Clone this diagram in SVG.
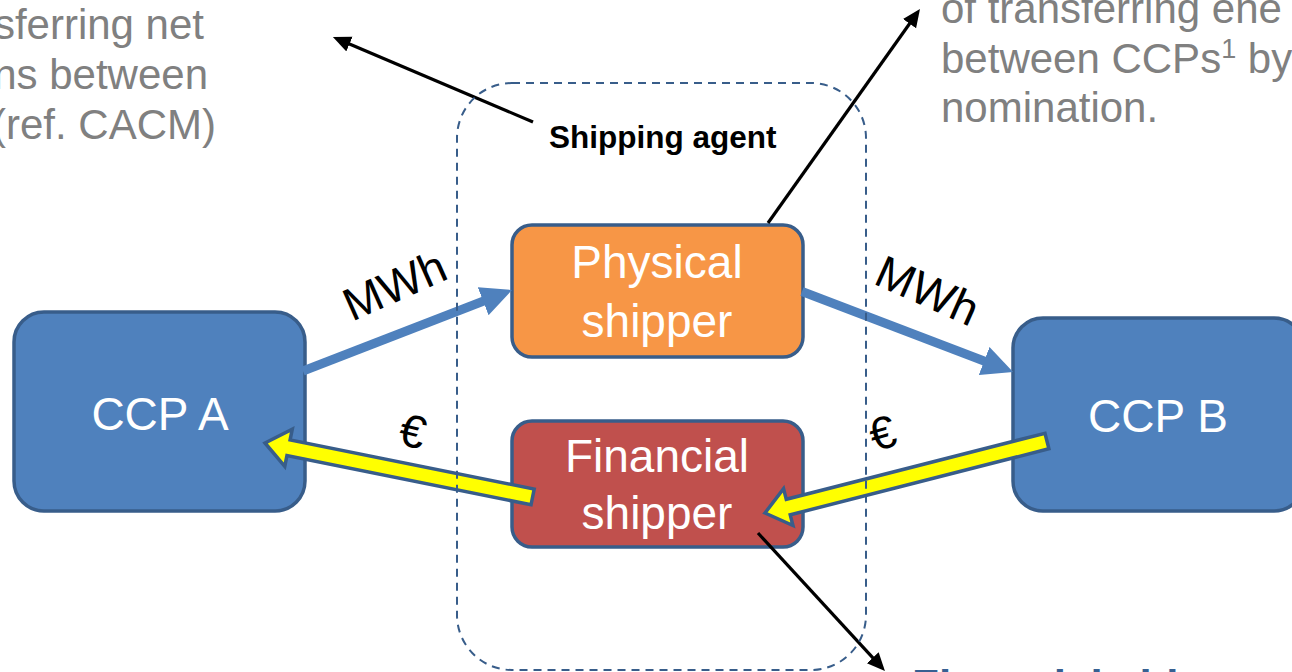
<svg xmlns="http://www.w3.org/2000/svg" width="1292" height="672" viewBox="0 0 1292 672">
<style>
.box{stroke:#385d8a;stroke-width:3.5}
.nt{font-family:"Liberation Sans",Arial,sans-serif;font-size:46px;fill:#ffffff;text-anchor:middle}
.grey{font-family:"Liberation Sans",Arial,sans-serif;font-size:42px;fill:#808080}
.lbl{font-family:"Liberation Sans",Arial,sans-serif;font-size:46px;fill:#000000;text-anchor:middle}
.blue{stroke:#4f81bd;stroke-width:9;fill:none;marker-end:url(#blueHead)}
.yel{fill:#ffff00;stroke:#385d8a;stroke-width:3.5;stroke-linejoin:miter}
.blk{stroke:#000000;stroke-width:3.2;fill:none;marker-end:url(#blkHead)}
</style>
<defs>
<marker id="blueHead" markerUnits="userSpaceOnUse" markerWidth="32" markerHeight="31" refX="2" refY="15" orient="auto">
<path d="M0,0 L31,15 L0,30 z" fill="#4f81bd"/>
</marker>
<marker id="blkHead" markerUnits="userSpaceOnUse" markerWidth="19" markerHeight="17" refX="7" refY="8" orient="auto">
<path d="M0,0 L18,8 L0,16 z" fill="#000000"/>
</marker>
</defs>
<rect width="1292" height="672" fill="#ffffff"/>

<g id="note-left">
<text class="grey" text-anchor="end"><tspan x="204" y="39">sferring net</tspan><tspan x="208" y="89">ns between</tspan><tspan x="216" y="139">(ref. CACM)</tspan></text>
</g>
<g id="note-right">
<text class="grey"><tspan x="941" y="23">of transferring ene</tspan><tspan x="941" y="73">between CCPs<tspan font-size="27" dy="-15">1</tspan><tspan dy="15"> by</tspan></tspan><tspan x="941" y="122">nomination.</tspan></text>
</g>
<g id="note-bottom">
<text x="912" y="701" font-family="'Liberation Sans',Arial,sans-serif" font-size="44" font-weight="bold" fill="#376092">Financial shipper</text>
</g>

<g id="ccp-a">
<rect class="box" x="14" y="312" width="291" height="199" rx="30" fill="#4f81bd"/>
<text class="nt" x="160" y="430">CCP A</text>
</g>
<g id="ccp-b">
<rect class="box" x="1013" y="318" width="291" height="193" rx="30" fill="#4f81bd"/>
<text class="nt" x="1158" y="432">CCP B</text>
</g>
<g id="physical-shipper">
<rect class="box" x="512" y="225" width="291" height="132" rx="20" fill="#f79646"/>
<text class="nt" x="657" y="278">Physical</text>
<text class="nt" x="657" y="337">shipper</text>
</g>
<g id="financial-shipper">
<rect class="box" x="512" y="421" width="291" height="126" rx="20" fill="#c0504d"/>
<text class="nt" x="657" y="472">Financial</text>
<text class="nt" x="657" y="529">shipper</text>
</g>

<g id="connectors">
<line class="blue" x1="303" y1="371" x2="485" y2="300.5"/>
<line class="blue" x1="802" y1="291.5" x2="986" y2="361.7"/>
<polygon class="yel" transform="translate(265,443) rotate(191.39)" points="0,0 -24,-19 -24,-8 -273,-8 -273,8 -24,8 -24,19"/>
<polygon class="yel" transform="translate(765,513) rotate(165.68)" points="0,0 -24,-19 -24,-8 -291,-8 -291,8 -24,8 -24,19"/>
<line class="blk" x1="533" y1="122" x2="343" y2="41.3"/>
<line class="blk" x1="768" y1="223" x2="913.6" y2="18"/>
<line class="blk" x1="758" y1="533" x2="877.5" y2="662.9"/>
<text class="lbl" x="401" y="300" font-size="47" transform="rotate(-24 401 300)">MWh</text>
<text class="lbl" x="921" y="305" font-size="47" transform="rotate(24 921 305)">MWh</text>
<text class="lbl" x="413" y="447" font-size="48" transform="rotate(14 413 430)">€</text>
<text class="lbl" x="882" y="449" font-size="48" transform="rotate(-16 882 432)">€</text>
</g>

<g id="shipping-agent">
<rect x="457" y="83" width="409" height="587" rx="55" fill="none" stroke="#385d8a" stroke-width="2" stroke-dasharray="8,6"/>
<text x="549" y="148" font-family="'Liberation Sans',Arial,sans-serif" font-size="31.5" font-weight="bold" fill="#000000">Shipping agent</text>
</g>
</svg>
